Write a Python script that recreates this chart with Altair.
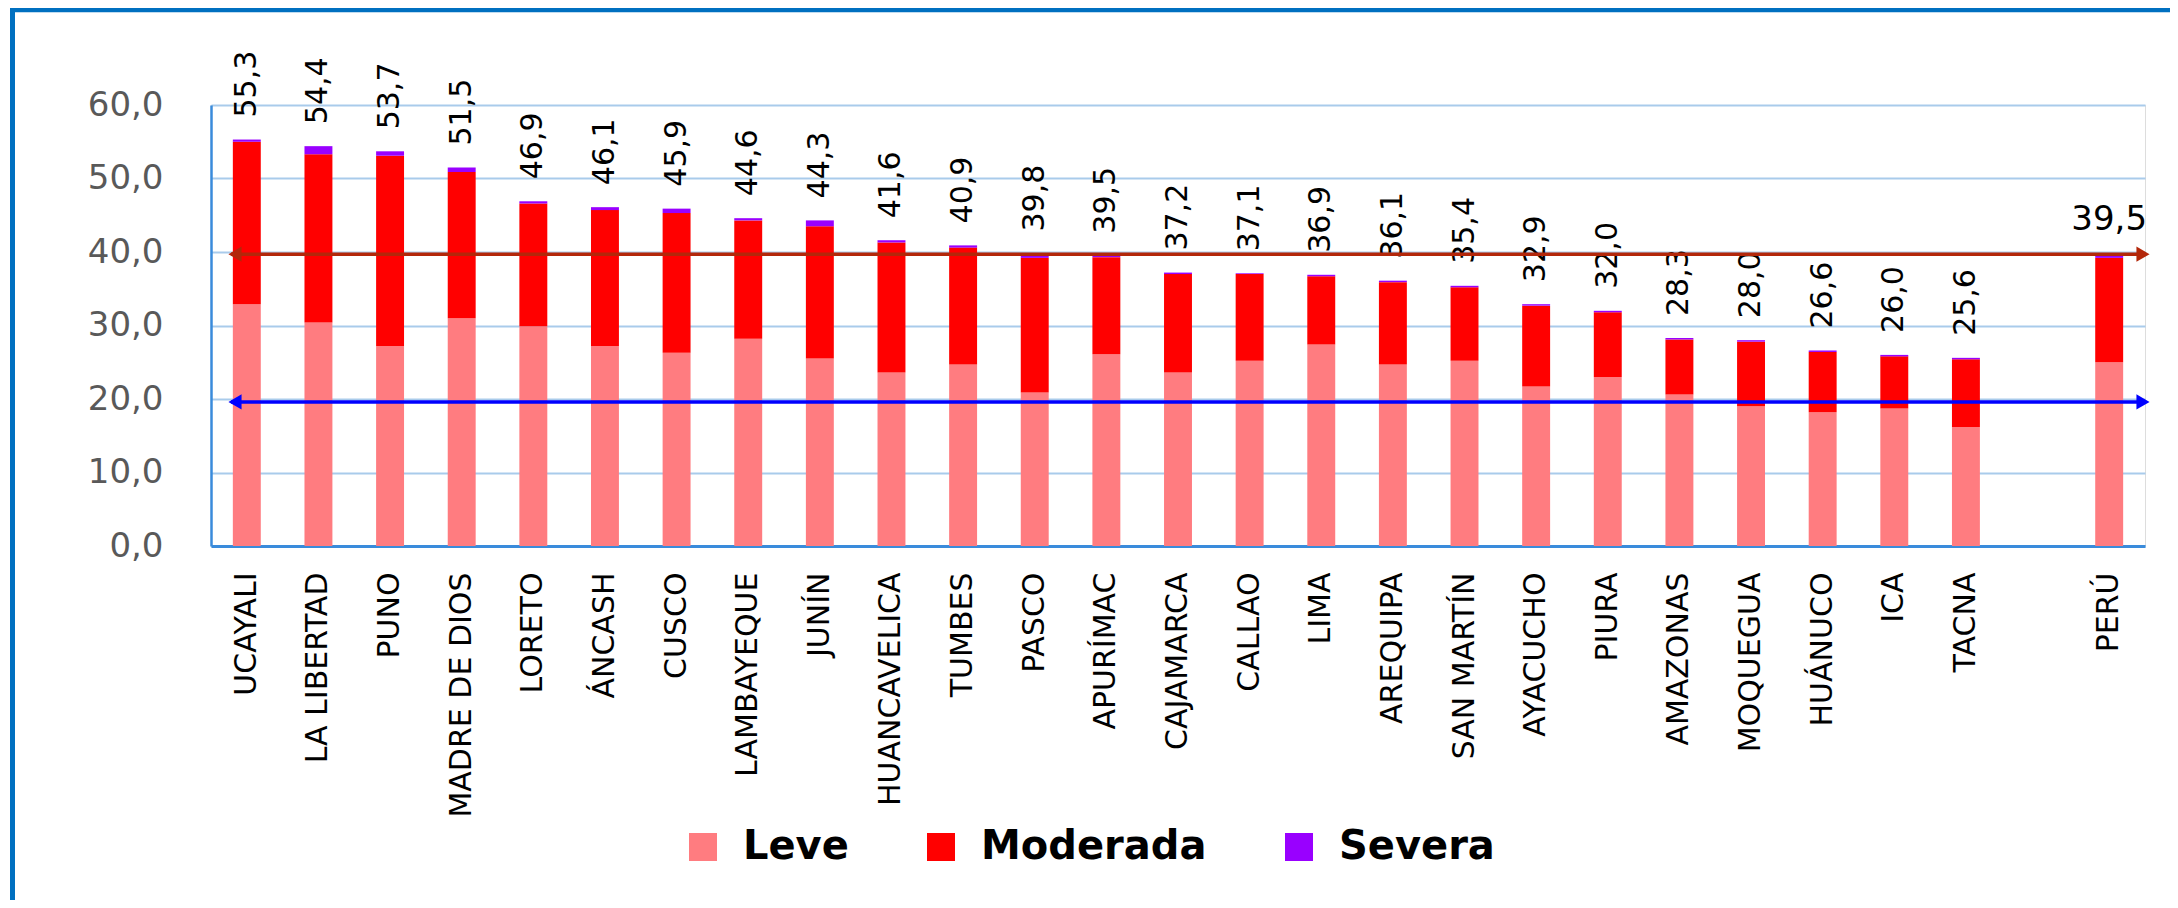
import altair as alt
import pandas as pd

# ---------------- data ----------------
regiones = ["UCAYALI", "LA LIBERTAD", "PUNO", "MADRE DE DIOS", "LORETO", "ÁNCASH",
            "CUSCO", "LAMBAYEQUE", "JUNÍN", "HUANCAVELICA", "TUMBES", "PASCO",
            "APURÍMAC", "CAJAMARCA", "CALLAO", "LIMA", "AREQUIPA", "SAN MARTÍN",
            "AYACUCHO", "PIURA", "AMAZONAS", "MOQUEGUA", "HUÁNUCO", "ICA", "TACNA",
            "PERÚ"]
leve = [32.9, 30.4, 27.2, 31.0, 29.9, 27.2, 26.3, 28.2, 25.5, 23.6, 24.7, 20.9,
        26.1, 23.6, 25.2, 27.4, 24.7, 25.2, 21.7, 23.0, 20.6, 19.0, 18.2, 18.7, 16.2,
        25.0]
moderada = [22.1, 22.9, 25.9, 19.9, 16.7, 18.5, 19.0, 16.1, 18.0, 17.7, 15.9, 18.3,
            13.2, 13.4, 11.8, 9.3, 11.2, 10.0, 11.0, 8.8, 7.5, 8.8, 8.2, 7.1, 9.2,
            14.2]
severa = [0.3, 1.1, 0.6, 0.6, 0.3, 0.4, 0.6, 0.3, 0.8, 0.3, 0.3, 0.6,
          0.2, 0.2, 0.1, 0.2, 0.2, 0.2, 0.2, 0.2, 0.2, 0.2, 0.2, 0.2, 0.2,
          0.3]
total = [55.3, 54.4, 53.7, 51.5, 46.9, 46.1, 45.9, 44.6, 44.3, 41.6, 40.9, 39.8,
         39.5, 37.2, 37.1, 36.9, 36.1, 35.4, 32.9, 32.0, 28.3, 28.0, 26.6, 26.0, 25.6,
         39.5]
categorias_eje = regiones[:-1] + [" "] + ["PERÚ"]
niveles = ["Leve", "Moderada", "Severa"]
colores = ["#FF7C80", "#FF0000", "#9900FF"]
ticks_y = [0, 10, 20, 30, 40, 50, 60]
lineas_ref = [39.7, 19.6]
colores_ref = ["#B3270A", "#0000FF"]

# ---------------- tables ----------------
filas = []
for i, r in enumerate(regiones):
    for k, (niv, serie) in enumerate(zip(niveles, [leve, moderada, severa])):
        filas.append({"region": r, "nivel": niv, "orden": k, "valor": serie[i]})
df_long = pd.DataFrame(filas)
df_tot = pd.DataFrame({"region": regiones, "total": total})
df_tot["etiqueta"] = [f"{v:.1f}".replace(".", ",") for v in total]

W, H = 1934, 441
FONT = "DejaVu Sans"

xscale = alt.Scale(domain=categorias_eje, paddingInner=0.61, paddingOuter=0.305)
yscale = alt.Scale(domain=[0, 60], nice=False)

x_axis = alt.Axis(labelAngle=270, labelAlign="right", labelBaseline="middle",
                  labelFont=FONT, labelFontSize=30, labelColor="black",
                  labelPadding=26, ticks=False, tickSize=0, domainColor="#3A8BDB",
                  domainWidth=3, title=None, labelLimit=400, labelOverlap=False,
                  grid=False)
y_axis = alt.Axis(values=ticks_y,
                  labelExpr="replace(format(datum.value, '.1f'), '.', ',')",
                  labelFont=FONT, labelFontSize=34, labelColor="#595959",
                  labelPadding=48, ticks=False, tickSize=0, domain=True,
                  domainColor="#3A8BDB", domainWidth=2.5, grid=True,
                  gridColor="#A9CBEB", gridWidth=2, title=None)

bars = alt.Chart(df_long).mark_bar().encode(
    x=alt.X("region:N", scale=xscale, sort=categorias_eje, axis=x_axis),
    y=alt.Y("valor:Q", stack="zero", scale=yscale, axis=y_axis),
    color=alt.Color("nivel:N", scale=alt.Scale(domain=niveles, range=colores),
                    legend=alt.Legend(orient="none", legendX=472, legendY=722,
                                      direction="horizontal", title=None,
                                      symbolType="square", symbolSize=784,
                                      symbolStrokeWidth=0, labelFont=FONT,
                                      labelFontSize=40, labelFontWeight="bold",
                                      labelColor="black", columnPadding=72,
                                      labelOffset=20, padding=0, labelLimit=400)),
    order=alt.Order("orden:Q"),
)

labels_rot = alt.Chart(df_tot[df_tot["region"] != "PERÚ"]).mark_text(
    angle=270, align="left", baseline="middle", yOffset=-22,
    font=FONT, fontSize=30, color="black"
).encode(
    x=alt.X("region:N", scale=xscale, sort=categorias_eje),
    y=alt.Y("total:Q", scale=yscale),
    text="etiqueta:N",
)

label_peru = alt.Chart(df_tot[df_tot["region"] == "PERÚ"]).mark_text(
    angle=0, align="center", baseline="alphabetic", yOffset=-26,
    font=FONT, fontSize=34, color="black"
).encode(
    x=alt.X("region:N", scale=xscale, sort=categorias_eje),
    y=alt.Y("total:Q", scale=yscale),
    text="etiqueta:N",
)

arrow_layers = []
for v, c in zip(lineas_ref, colores_ref):
    d = pd.DataFrame({"valor": [v]})
    arrow_layers.append(alt.Chart(d).mark_rule(color=c, strokeWidth=3.5).encode(
        x=alt.value(20), x2=alt.value(1930), y=alt.Y("valor:Q", scale=yscale)))
    arrow_layers.append(alt.Chart(d).mark_point(
        shape="triangle-left", filled=True, size=230, color=c, opacity=1).encode(
        x=alt.value(24), y=alt.Y("valor:Q", scale=yscale)))
    arrow_layers.append(alt.Chart(d).mark_point(
        shape="triangle-right", filled=True, size=230, color=c, opacity=1).encode(
        x=alt.value(1932), y=alt.Y("valor:Q", scale=yscale)))

borde_sup = alt.Chart(df_tot.head(1)).mark_rule(color="#0070C0", strokeWidth=4.5).encode(
    x=alt.value(-201), x2=alt.value(1960), y=alt.value(-95))
borde_izq = alt.Chart(df_tot.head(1)).mark_rule(color="#0070C0", strokeWidth=5).encode(
    x=alt.value(-198.5), y=alt.value(-97), y2=alt.value(800))

chart = alt.layer(bars, labels_rot, label_peru, *arrow_layers, borde_sup, borde_izq).properties(
    width=W, height=H,
    autosize=alt.AutoSizeParams(type="none"),
    padding={"left": 203, "top": 97, "right": 25, "bottom": 354},
    background="white",
).configure_view(stroke=None).configure(font=FONT)

chart.save("out.html", embed_options={"renderer": "svg", "actions": False})
